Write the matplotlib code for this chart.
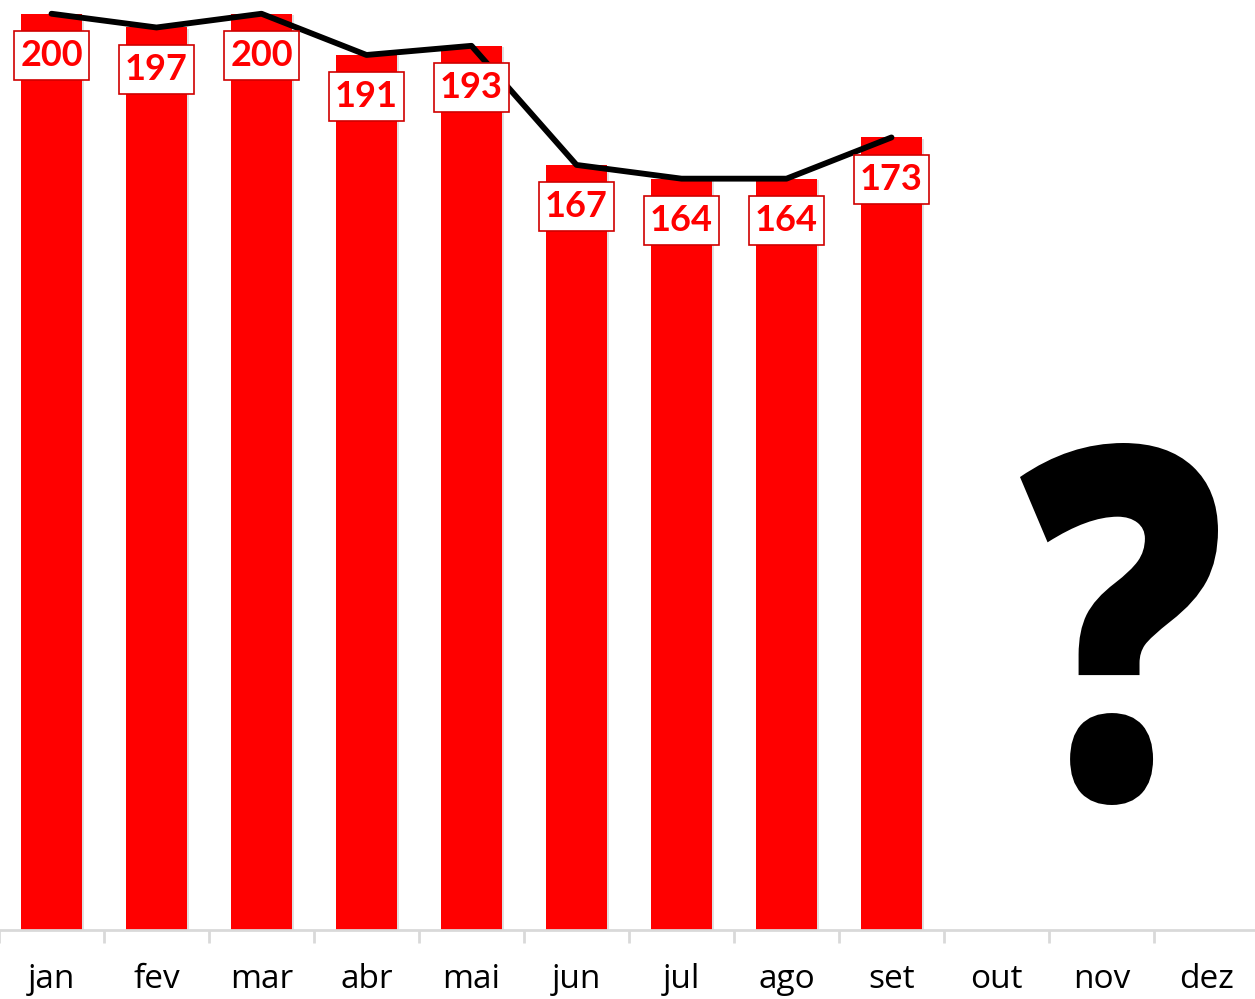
import matplotlib
matplotlib.use("Agg")
import matplotlib.pyplot as plt
import matplotlib.patheffects as pe
from matplotlib.textpath import TextPath
from matplotlib.patches import PathPatch
from matplotlib.font_manager import FontProperties
from matplotlib.path import Path
from matplotlib.transforms import Affine2D
import numpy as np

months = ["jan", "fev", "mar", "abr", "mai", "jun", "jul", "ago", "set", "out", "nov", "dez"]
valores = [200, 197, 200, 191, 193, 167, 164, 164, 173]


def caixa(x0, y0, width, height, mutation_size):
    # retangulo com mais folga na vertical
    px = 0.16 * mutation_size
    py = 0.22 * mutation_size
    x0, y0 = x0 - px, y0 - py
    x1, y1 = x0 + width + 2 * px, y0 + height + 2 * py
    return Path([(x0, y0), (x1, y0), (x1, y1), (x0, y1), (x0, y0)], closed=True)


fig = plt.figure(figsize=(12.55, 9.99), dpi=100)
ax = fig.add_axes([-1 / 1255, 69 / 999, 1260 / 1255, 930 / 999])

x = np.arange(len(months))
xv = x[:len(valores)]

bars = ax.bar(xv, valores, width=0.58, color="#FF0000", zorder=2)
for b in bars:
    b.set_path_effects([pe.SimplePatchShadow(offset=(1.5, -1), shadow_rgbFace="#999999", alpha=0.3),
                        pe.Normal()])

ax.plot(xv, valores, color="black", lw=4.2, solid_capstyle="round", solid_joinstyle="round", zorder=3)

for xi, v in zip(xv, valores):
    ax.annotate(str(v), (xi, v), xytext=(0, -30), textcoords="offset points",
                ha="center", va="center", fontsize=26, fontweight="bold", family="Lato",
                color="#FF0000", zorder=4,
                bbox=dict(boxstyle=caixa, fc="white", ec="#D00000", lw=1.2))

# ponto de interrogacao grande (out-dez)
tp = TextPath((0, 0), "?", size=1, prop=FontProperties(family="Open Sans", weight="heavy"))
ext = tp.get_extents()
tr = (Affine2D().translate(-(ext.x0 + ext.x1) / 2, -(ext.y0 + ext.y1) / 2)
      .scale(1.98 / ext.width, 3.62 / ext.height)
      .translate(11.19, 3.75))
fig.add_artist(PathPatch(tr.transform_path(tp), transform=fig.dpi_scale_trans,
                         fc="black", ec="none"))

ax.set_xlim(-0.5, 11.5)
ax.set_ylim(0, 203)
ax.set_xticks(x)
ax.set_xticklabels(months, family="Open Sans", fontsize=24)
ax.set_xticks(np.arange(-0.5, 12, 1), minor=True)
ax.tick_params("x", which="major", length=0, pad=24)
ax.tick_params("x", which="minor", length=9, width=2, color="#D9D9D9")
ax.set_yticks([])
for s in ["top", "left", "right"]:
    ax.spines[s].set_visible(False)
ax.spines["bottom"].set_color("#D9D9D9")
ax.spines["bottom"].set_linewidth(2)
ax.patch.set_alpha(0)

fig.savefig("out.png", dpi=100)
